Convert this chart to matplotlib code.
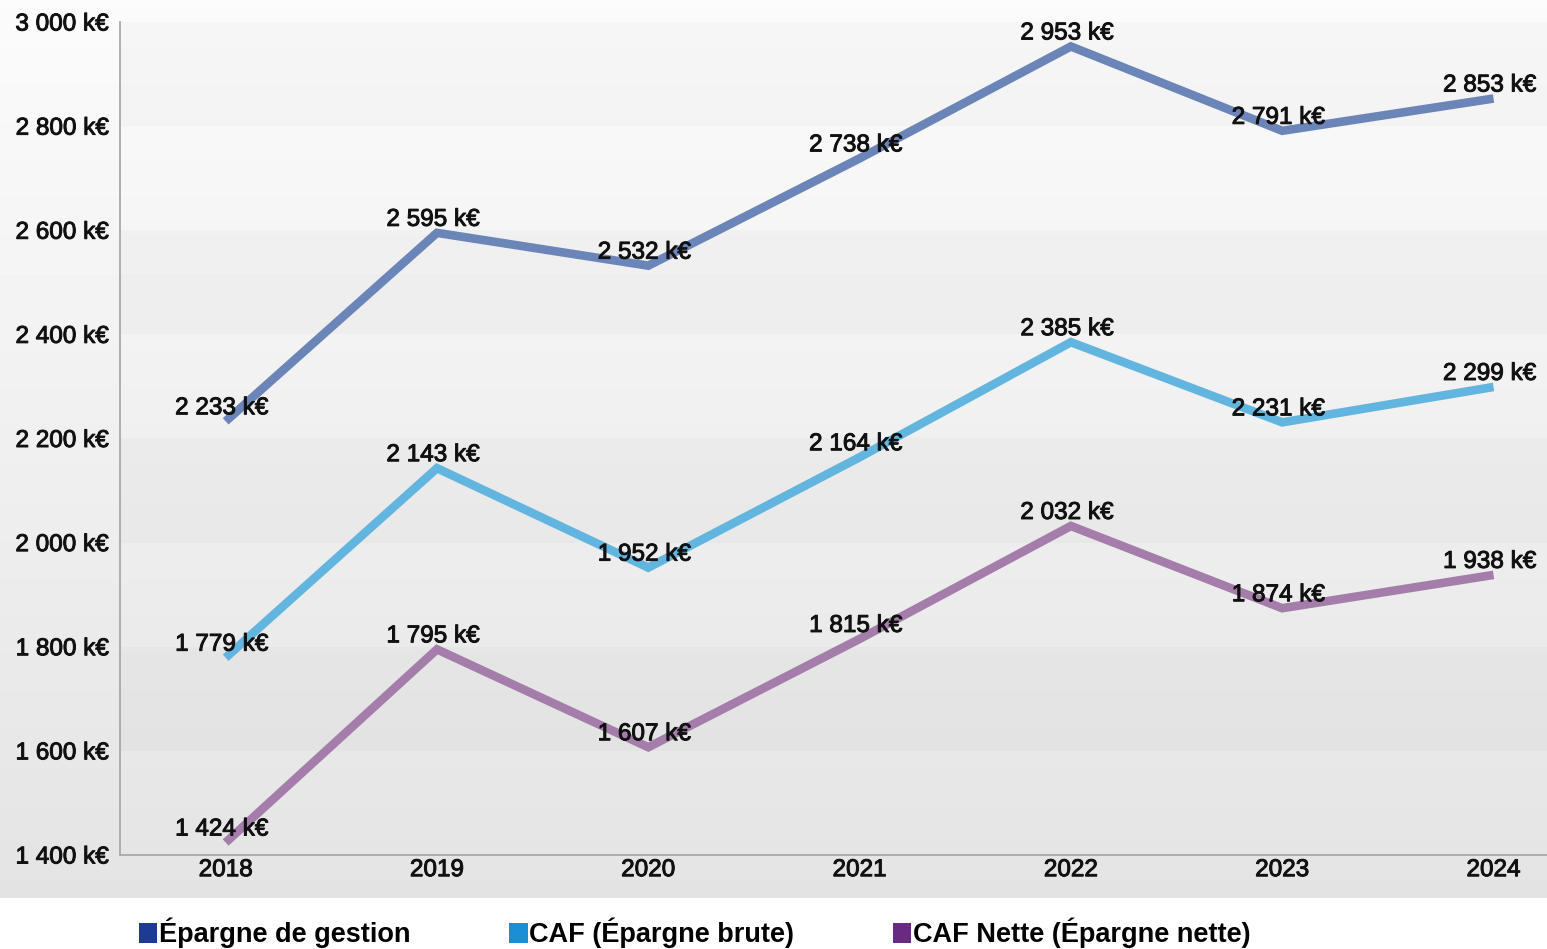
import numpy as np
import matplotlib
matplotlib.use("Agg")
import matplotlib.pyplot as plt
import matplotlib.patheffects as pe
from matplotlib.patches import Patch

plt.rcParams['font.family'] = ['Liberation Sans', 'DejaVu Sans']

years = ["2018", "2019", "2020", "2021", "2022", "2023", "2024"]
epargne_gestion = [2233, 2595, 2532, 2738, 2953, 2791, 2853]
caf_brute = [1779, 2143, 1952, 2164, 2385, 2231, 2299]
caf_nette = [1424, 1795, 1607, 1815, 2032, 1874, 1938]
series_names = ["Épargne de gestion", "CAF (Épargne brute)", "CAF Nette (Épargne nette)"]
y_ticks = [1400, 1600, 1800, 2000, 2200, 2400, 2600, 2800, 3000]

line_colors = ["#6b85b9", "#62b5df", "#a57dab"]
legend_colors = ["#1d3a94", "#1b8fd6", "#6a2a84"]

W, H = 1547, 949
fig = plt.figure(figsize=(W / 100, H / 100), dpi=100)
fig.patch.set_facecolor("white")

TXT = "#111111"
heavy = [pe.withStroke(linewidth=0.7, foreground=TXT)]


def kfmt(v):
    return f"{v:,}".replace(",", " ") + " k€"


# grey gradient backdrop behind the chart area
bg = fig.add_axes([0, 1 - 898 / H, 1, 898 / H], zorder=0)
grad = np.linspace(0.985, 0.893, 256).reshape(-1, 1)
bg.imshow(grad, aspect="auto", cmap="gray", vmin=0, vmax=1,
          extent=[0, 1, 0, 1], origin="upper")
bg.set_axis_off()

ax = fig.add_axes([120 / W, 1 - 855 / H, 1 - 120 / W, (855 - 22) / H], zorder=1)
ax.patch.set_alpha(0)

x = np.arange(len(years))

# alternating horizontal bands between gridlines
for i, lo in enumerate(y_ticks[:-1]):
    if i % 2 == 1:
        ax.axhspan(lo, y_ticks[i + 1], color="black", alpha=0.02, lw=0, zorder=0)

for vals, col in zip([epargne_gestion, caf_brute, caf_nette], line_colors):
    ax.plot(x, vals, color=col, lw=6.2, solid_capstyle="butt",
            solid_joinstyle="miter", zorder=2)
    for xi, v in zip(x, vals):
        ax.annotate(kfmt(v), (xi, v), xytext=(-4, 7), textcoords="offset pixels",
                    ha="center", va="baseline", fontsize=17.5, color=TXT,
                    path_effects=heavy, zorder=3)

ax.set_xlim(-0.5, 6.253)
ax.set_ylim(1400, 3000)
ax.set_xticks(x)
ax.set_xticklabels(years)
ax.set_yticks(y_ticks)
ax.set_yticklabels([kfmt(t) for t in y_ticks])
ax.tick_params(axis="both", length=0, labelsize=17.5, labelcolor=TXT)
ax.tick_params(axis="y", pad=8)
ax.tick_params(axis="x", pad=3)
for lab in ax.get_xticklabels() + ax.get_yticklabels():
    lab.set_path_effects(heavy)

for side in ("top", "right"):
    ax.spines[side].set_visible(False)
for side in ("left", "bottom"):
    ax.spines[side].set_color("#a8a8a8")
    ax.spines[side].set_linewidth(1.3)

handles = [Patch(facecolor=c, edgecolor="none") for c in legend_colors]
fig.legend(handles, series_names, loc="center", ncol=3,
           bbox_to_anchor=(695 / W, 1 - 933 / H), frameon=False,
           prop={"size": 19.5, "weight": "bold"},
           handlelength=0.67, handleheight=0.74, handletextpad=0.07,
           columnspacing=3.65, borderpad=0, borderaxespad=0)

fig.savefig("out.png", dpi=100, facecolor=fig.get_facecolor())
